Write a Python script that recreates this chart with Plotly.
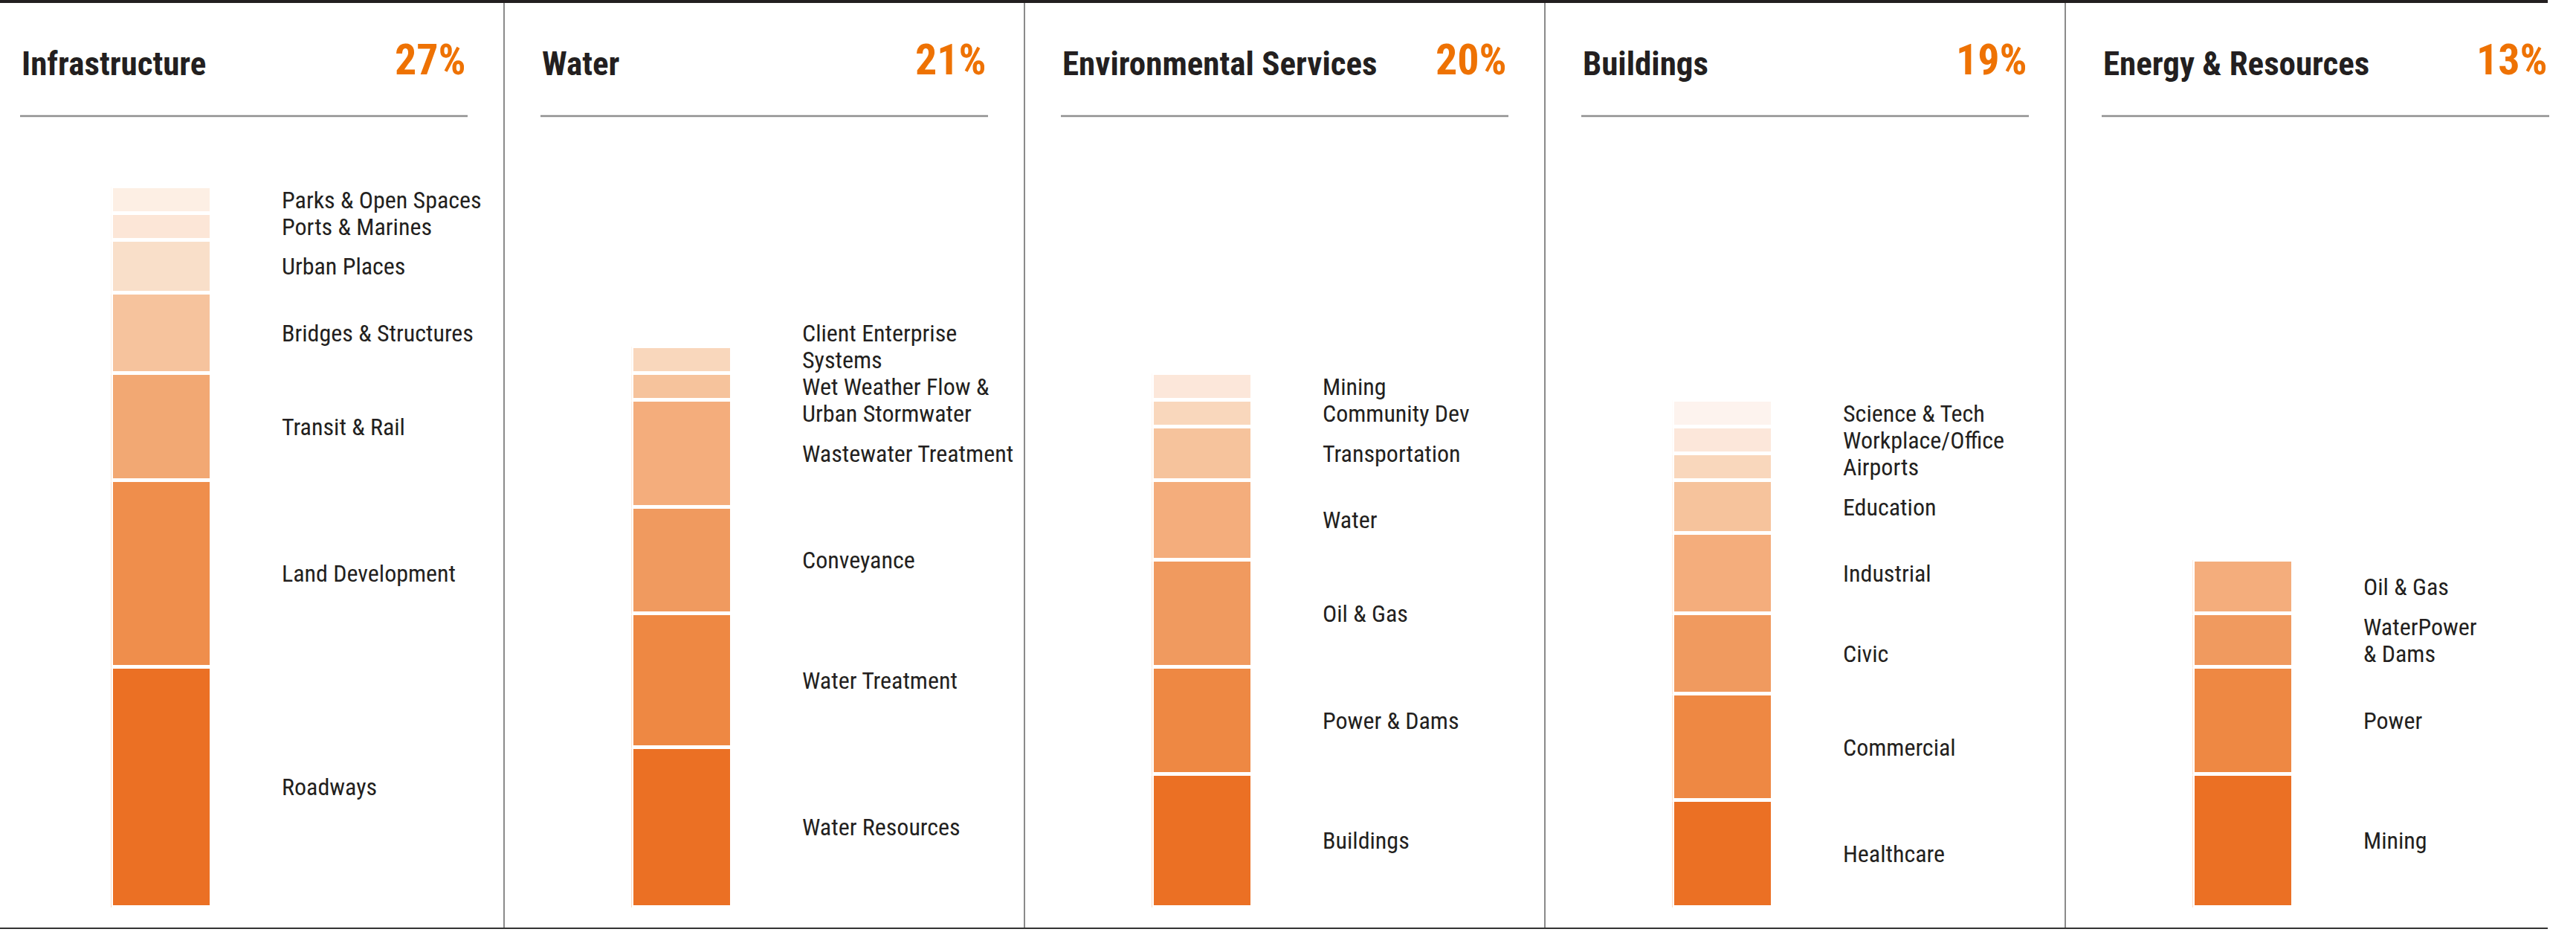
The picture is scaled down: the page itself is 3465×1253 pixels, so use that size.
import plotly.graph_objects as go

# sector totals (share of revenue, %)
sectors = ["Infrastructure", "Water", "Environmental Services", "Buildings", "Energy & Resources"]
shares = [27, 21, 20, 19, 13]

# segments listed bottom -> top
infra_labels = ["Roadways", "Land Development", "Transit & Rail", "Bridges & Structures",
                "Urban Places", "Ports & Marines", "Parks & Open Spaces"]
infra_values = [9, 7, 4, 3, 2, 1, 1]

water_labels = ["Water Resources", "Water Treatment", "Conveyance", "Wastewater Treatment",
                "Wet Weather Flow &\nUrban Stormwater", "Client Enterprise\nSystems"]
water_values = [6, 5, 4, 4, 1, 1]

env_labels = ["Buildings", "Power & Dams", "Oil & Gas", "Water", "Transportation",
              "Community Dev", "Mining"]
env_values = [5, 4, 4, 3, 2, 1, 1]

bldg_labels = ["Healthcare", "Commercial", "Civic", "Industrial", "Education",
               "Airports", "Workplace/Office", "Science & Tech"]
bldg_values = [4, 4, 3, 3, 2, 1, 1, 1]

energy_labels = ["Mining", "Power", "WaterPower\n& Dams", "Oil & Gas"]
energy_values = [5, 4, 2, 2]

seg_labels = [infra_labels, water_labels, env_labels, bldg_labels, energy_labels]
seg_values = [infra_values, water_values, env_values, bldg_values, energy_values]

# ---- styling ----
W, H = 3465, 1253
PANEL_W = 700
ORANGE = "#EE7203"
INK = "#231f20"
COND = "Roboto Condensed, Liberation Sans Narrow, Arial Narrow, DejaVu Sans Condensed, Roboto, sans-serif"

infra_colors = ["#EB7024", "#EF8E4C", "#F2A873", "#F6C39D", "#F9DFC9", "#FCE6D7", "#FDEFE4"]
std_colors = ["#EB7024", "#EE8843", "#F09A5F", "#F4AD7C", "#F6C39C", "#F9D7BC", "#FCE7DA", "#FDF3EE"]
palettes = [infra_colors, std_colors, std_colors, std_colors, std_colors]

BAR_BOTTOM = 1220      # px
UNIT_PX = 35.9         # px per 1 %
LINE_PX = 36           # label line height
GAP = 5


def px_x(v):
    return v / W


def px_y(v):
    return 1 - v / H


fig = go.Figure()
shapes = []
annotations = []
line_h = LINE_PX / UNIT_PX

for i, name in enumerate(sectors):
    left = -22 + PANEL_W * i
    ax = "x" if i == 0 else f"x{i + 1}"
    axkey = "xaxis" if i == 0 else f"xaxis{i + 1}"
    cols = palettes[i]

    # stacked bar
    for j, (lab, val) in enumerate(zip(seg_labels[i], seg_values[i])):
        fig.add_trace(go.Bar(
            x=[0], y=[val], xaxis=ax, yaxis="y", width=1,
            marker=dict(color=cols[j], line=dict(color="white", width=GAP)),
            name=lab.replace("\n", " "), hoverinfo="name+y", showlegend=False,
        ))
    fig.layout[axkey] = dict(
        domain=[px_x(left + 174 - GAP / 2), px_x(left + 304 + GAP / 2)],
        range=[-0.5, 0.5], visible=False, fixedrange=True, anchor="y",
    )

    # label centres, spread apart where multi-line labels would collide
    centers, nlines = [], []
    acc = 0
    for lab, val in zip(seg_labels[i], seg_values[i]):
        centers.append(acc + val / 2)
        nlines.append(len(lab.split("\n")))
        acc += val
    for _ in range(20):
        for k in range(len(centers) - 1):
            need = (nlines[k] + nlines[k + 1]) * line_h / 2
            d = centers[k + 1] - centers[k]
            if d < need - 1e-6:
                push = (need - d) / 2
                centers[k] -= push
                centers[k + 1] += push
    for lab, c, n in zip(seg_labels[i], centers, nlines):
        for k, part in enumerate(lab.split("\n")):
            annotations.append(dict(
                x=px_x(left + 399), xref="paper", xanchor="left",
                y=c + ((n - 1) / 2 - k) * line_h, yref="y", yanchor="middle",
                text=part, showarrow=False,
                font=dict(family=COND, size=32, color=INK),
            ))

    # header
    annotations.append(dict(
        x=px_x(left + 49), y=px_y(85), xref="paper", yref="paper",
        xanchor="left", yanchor="middle", text=f"<b>{name}</b>", showarrow=False,
        font=dict(family=COND, size=45, color=INK, weight=900),
    ))
    annotations.append(dict(
        x=px_x(left + 651), y=px_y(80), xref="paper", yref="paper",
        xanchor="right", yanchor="middle", text=f"<b>{shares[i]}%</b>", showarrow=False,
        font=dict(family=COND, size=58, color=ORANGE, weight=900),
    ))
    shapes.append(dict(type="line", xref="paper", yref="paper",
                       x0=px_x(left + 49), x1=px_x(left + 651), y0=px_y(156), y1=px_y(156),
                       line=dict(color="#8f8f8f", width=2.5)))
    if i > 0:
        shapes.append(dict(type="line", xref="paper", yref="paper",
                           x0=px_x(left), x1=px_x(left), y0=px_y(4), y1=px_y(1248),
                           line=dict(color="#8a8a8a", width=2)))

# top rule and baseline
shapes.append(dict(type="rect", xref="paper", yref="paper",
                   x0=0, x1=px_x(3427), y0=px_y(4), y1=1,
                   fillcolor=INK, line=dict(width=0)))
shapes.append(dict(type="line", xref="paper", yref="paper",
                   x0=0, x1=px_x(3427), y0=px_y(1248), y1=px_y(1248),
                   line=dict(color="#333333", width=2)))

fig.update_layout(
    width=W, height=H,
    margin=dict(l=0, r=0, t=0, b=0),
    paper_bgcolor="white", plot_bgcolor="white",
    barmode="stack", bargap=0,
    showlegend=False,
    yaxis=dict(domain=[1 - BAR_BOTTOM / H, 1], range=[0, BAR_BOTTOM / UNIT_PX],
               visible=False, fixedrange=True, anchor="x"),
    shapes=shapes,
    annotations=annotations,
)

# drop the browser's default body margin so the figure sits at the page corner
fig.write_html("out.html", config={"displayModeBar": False},
               post_script="document.body.style.margin='0px';")
